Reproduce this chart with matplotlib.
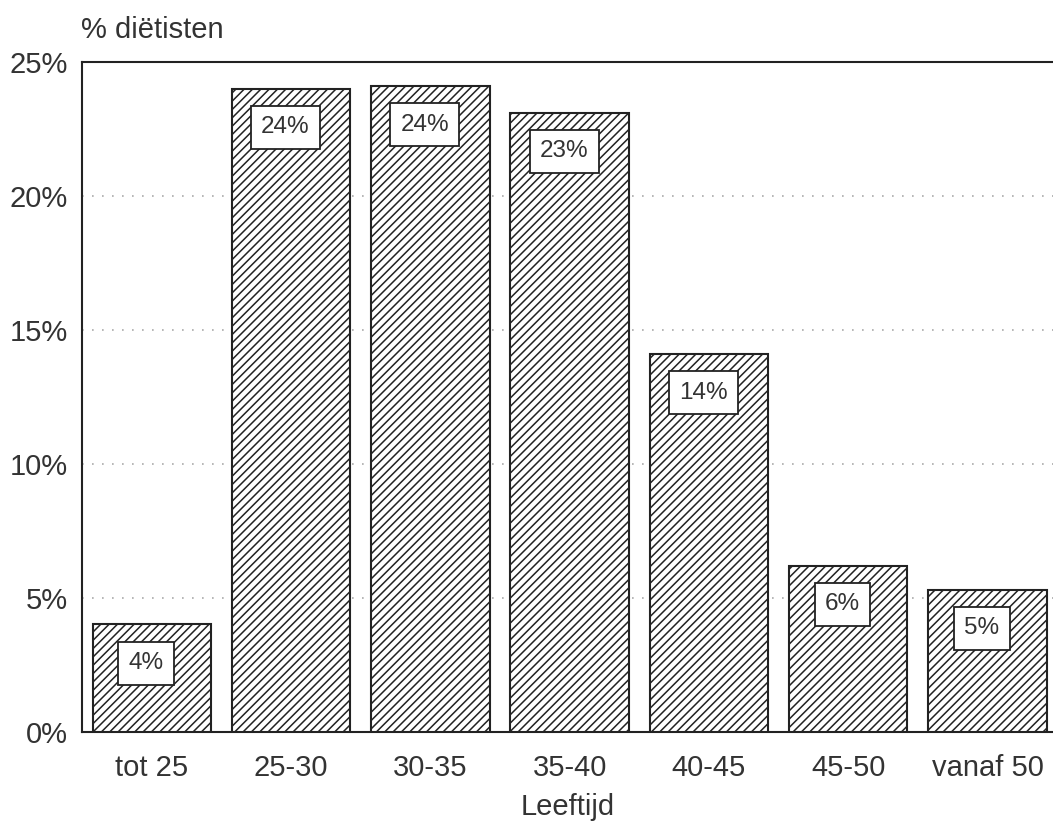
import numpy as np
import matplotlib
matplotlib.use("Agg")
import matplotlib.pyplot as plt

# leeftijdsverdeling van diëtisten
leeftijden = ["tot 25", "25-30", "30-35", "35-40", "40-45", "45-50", "vanaf 50"]
percentages = [4.0, 24.0, 24.1, 23.1, 14.1, 6.2, 5.3]
labels = ["4%", "24%", "24%", "23%", "14%", "6%", "5%"]
y_ticks = [0, 5, 10, 15, 20, 25]
y_ticklabels = ["0%", "5%", "10%", "15%", "20%", "25%"]

plt.rcParams["font.family"] = ["Liberation Sans", "DejaVu Sans"]
plt.rcParams["hatch.color"] = "#444444"
plt.rcParams["hatch.linewidth"] = 1.1
tekst = "#333333"

fig = plt.figure(figsize=(10.53, 8.23), dpi=100)
ax = fig.add_axes([0.078, 0.111, 0.922, 0.814])

x = np.arange(len(leeftijden))
ax.bar(x, percentages, width=0.85, color="white", edgecolor="#222222",
       linewidth=1.5, hatch="////", zorder=3)

for xi, p, lab in zip(x, percentages, labels):
    ax.text(xi - 0.04, p - 1.45, lab, ha="center", va="center", fontsize=17.5,
            color=tekst, zorder=5,
            bbox=dict(boxstyle="square,pad=0.42", facecolor="white",
                      edgecolor="#222222", linewidth=1.3))

for g in y_ticks[1:-1]:
    ax.axhline(g, color="#aaaaaa", linestyle=(0, (1, 5)), linewidth=1.2, zorder=1)

ax.set_xlim(-0.5, 6.47)
ax.set_ylim(0, 25)
ax.set_yticks(y_ticks)
ax.set_yticklabels(y_ticklabels)
ax.set_xticks(x)
ax.set_xticklabels(leeftijden)
ax.tick_params(axis="x", length=0, pad=16, labelsize=21, labelcolor=tekst)
ax.tick_params(axis="y", length=0, pad=10, labelsize=21, labelcolor=tekst)

for side in ["left", "top", "bottom"]:
    ax.spines[side].set_linewidth(1.5)
    ax.spines[side].set_color("#222222")
ax.spines["right"].set_visible(False)

ax.set_xlabel("Leeftijd", fontsize=21, color=tekst, labelpad=8)
fig.text(0.077, 0.964, "% diëtisten", fontsize=21, color=tekst,
         ha="left", va="center")

fig.savefig("out.png", dpi=100)
